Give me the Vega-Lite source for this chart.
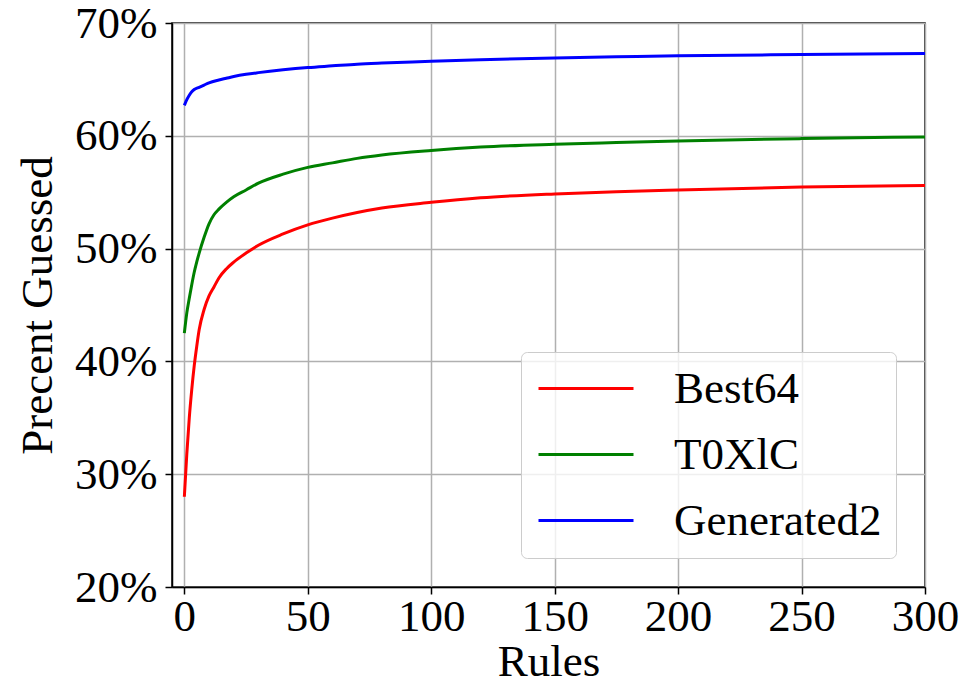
{
  "$schema": "https://vega.github.io/schema/vega-lite/v6.json",
  "width": 753,
  "height": 564,
  "autosize": {"type": "none"},
  "padding": {"left": 172, "top": 23, "right": 49, "bottom": 101},
  "background": "white",
  "config": {
    "font": "Liberation Serif",
    "view": {"stroke": "black", "strokeWidth": 1.5},
    "axis": {
      "labelFont": "Liberation Serif",
      "titleFont": "Liberation Serif",
      "labelColor": "black",
      "titleColor": "black",
      "titleFontWeight": "normal",
      "labelFontSize": 45,
      "titleFontSize": 45,
      "domainColor": "black",
      "domainWidth": 1.5,
      "tickColor": "black",
      "tickWidth": 1.5,
      "tickSize": 7,
      "gridColor": "#b0b0b0",
      "gridWidth": 1.5,
      "gridOpacity": 1
    },
    "legend": {
      "labelFont": "Liberation Serif",
      "labelFontSize": 45,
      "labelColor": "black",
      "labelLimit": 0
    }
  },
  "data": {
    "values": [
      {"series": "Best64", "rules": 0, "pct": 28.0},
      {"series": "Best64", "rules": 1, "pct": 31.8},
      {"series": "Best64", "rules": 2, "pct": 35.0},
      {"series": "Best64", "rules": 3, "pct": 37.5},
      {"series": "Best64", "rules": 4, "pct": 39.6},
      {"series": "Best64", "rules": 5, "pct": 41.3},
      {"series": "Best64", "rules": 6, "pct": 42.8},
      {"series": "Best64", "rules": 8, "pct": 44.6},
      {"series": "Best64", "rules": 10, "pct": 45.8},
      {"series": "Best64", "rules": 12, "pct": 46.6},
      {"series": "Best64", "rules": 14, "pct": 47.4},
      {"series": "Best64", "rules": 17, "pct": 48.2},
      {"series": "Best64", "rules": 20, "pct": 48.8},
      {"series": "Best64", "rules": 25, "pct": 49.6},
      {"series": "Best64", "rules": 30, "pct": 50.3},
      {"series": "Best64", "rules": 40, "pct": 51.3},
      {"series": "Best64", "rules": 50, "pct": 52.1},
      {"series": "Best64", "rules": 60, "pct": 52.7},
      {"series": "Best64", "rules": 70, "pct": 53.2},
      {"series": "Best64", "rules": 80, "pct": 53.6},
      {"series": "Best64", "rules": 100, "pct": 54.1},
      {"series": "Best64", "rules": 120, "pct": 54.5},
      {"series": "Best64", "rules": 150, "pct": 54.85},
      {"series": "Best64", "rules": 175, "pct": 55.05},
      {"series": "Best64", "rules": 200, "pct": 55.2},
      {"series": "Best64", "rules": 250, "pct": 55.45},
      {"series": "Best64", "rules": 300, "pct": 55.6},
      {"series": "T0XlC", "rules": 0, "pct": 42.5},
      {"series": "T0XlC", "rules": 1, "pct": 44.3},
      {"series": "T0XlC", "rules": 2, "pct": 45.6},
      {"series": "T0XlC", "rules": 3, "pct": 46.8},
      {"series": "T0XlC", "rules": 4, "pct": 47.9},
      {"series": "T0XlC", "rules": 5, "pct": 48.8},
      {"series": "T0XlC", "rules": 6, "pct": 49.6},
      {"series": "T0XlC", "rules": 8, "pct": 51.0},
      {"series": "T0XlC", "rules": 10, "pct": 52.2},
      {"series": "T0XlC", "rules": 12, "pct": 53.0},
      {"series": "T0XlC", "rules": 14, "pct": 53.5},
      {"series": "T0XlC", "rules": 17, "pct": 54.1},
      {"series": "T0XlC", "rules": 20, "pct": 54.6},
      {"series": "T0XlC", "rules": 25, "pct": 55.2},
      {"series": "T0XlC", "rules": 30, "pct": 55.8},
      {"series": "T0XlC", "rules": 40, "pct": 56.6},
      {"series": "T0XlC", "rules": 50, "pct": 57.2},
      {"series": "T0XlC", "rules": 60, "pct": 57.6},
      {"series": "T0XlC", "rules": 70, "pct": 58.0},
      {"series": "T0XlC", "rules": 80, "pct": 58.3},
      {"series": "T0XlC", "rules": 100, "pct": 58.7},
      {"series": "T0XlC", "rules": 120, "pct": 59.0},
      {"series": "T0XlC", "rules": 150, "pct": 59.25},
      {"series": "T0XlC", "rules": 175, "pct": 59.4},
      {"series": "T0XlC", "rules": 200, "pct": 59.55},
      {"series": "T0XlC", "rules": 250, "pct": 59.75},
      {"series": "T0XlC", "rules": 300, "pct": 59.9},
      {"series": "Generated2", "rules": 0, "pct": 62.7},
      {"series": "Generated2", "rules": 1, "pct": 63.2},
      {"series": "Generated2", "rules": 2, "pct": 63.6},
      {"series": "Generated2", "rules": 3, "pct": 63.9},
      {"series": "Generated2", "rules": 4, "pct": 64.1},
      {"series": "Generated2", "rules": 6, "pct": 64.3},
      {"series": "Generated2", "rules": 8, "pct": 64.5},
      {"series": "Generated2", "rules": 10, "pct": 64.7},
      {"series": "Generated2", "rules": 14, "pct": 64.95},
      {"series": "Generated2", "rules": 17, "pct": 65.1},
      {"series": "Generated2", "rules": 20, "pct": 65.25},
      {"series": "Generated2", "rules": 25, "pct": 65.45},
      {"series": "Generated2", "rules": 30, "pct": 65.6},
      {"series": "Generated2", "rules": 40, "pct": 65.85},
      {"series": "Generated2", "rules": 50, "pct": 66.05},
      {"series": "Generated2", "rules": 60, "pct": 66.2},
      {"series": "Generated2", "rules": 70, "pct": 66.35},
      {"series": "Generated2", "rules": 80, "pct": 66.45},
      {"series": "Generated2", "rules": 100, "pct": 66.6},
      {"series": "Generated2", "rules": 120, "pct": 66.75},
      {"series": "Generated2", "rules": 150, "pct": 66.9},
      {"series": "Generated2", "rules": 175, "pct": 67.0},
      {"series": "Generated2", "rules": 200, "pct": 67.1},
      {"series": "Generated2", "rules": 250, "pct": 67.2},
      {"series": "Generated2", "rules": 300, "pct": 67.3}
    ]
  },
  "mark": {"type": "line", "strokeWidth": 3, "interpolate": "monotone", "clip": true},
  "encoding": {
    "x": {
      "field": "rules",
      "type": "quantitative",
      "scale": {"domain": [-5, 300], "nice": false, "zero": false},
      "axis": {"title": "Rules", "values": [0, 50, 100, 150, 200, 250, 300], "labelPadding": 0, "titlePadding": 0, "labelFlush": false}
    },
    "y": {
      "field": "pct",
      "type": "quantitative",
      "scale": {"domain": [20, 70], "nice": false, "zero": false},
      "axis": {"title": "Precent Guessed", "values": [20, 30, 40, 50, 60, 70], "labelExpr": "datum.value + '%'", "labelPadding": 8, "titlePadding": 14, "labelFlush": false}
    },
    "color": {
      "field": "series",
      "type": "nominal",
      "sort": ["Best64", "T0XlC", "Generated2"],
      "scale": {"domain": ["Best64", "T0XlC", "Generated2"], "range": ["#ff0000", "#008000", "#0000ff"]},
      "legend": {
        "title": null,
        "orient": "none",
        "legendX": 349,
        "legendY": 329,
        "symbolType": "M-1,0H4",
        "symbolStrokeWidth": 3,
        "symbolSize": 1444,
        "labelOffset": 94,
        "rowPadding": 20,
        "padding": 14,
        "fillColor": "rgba(255,255,255,0.8)",
        "strokeColor": "#cccccc",
        "cornerRadius": 6
      }
    }
  }
}
